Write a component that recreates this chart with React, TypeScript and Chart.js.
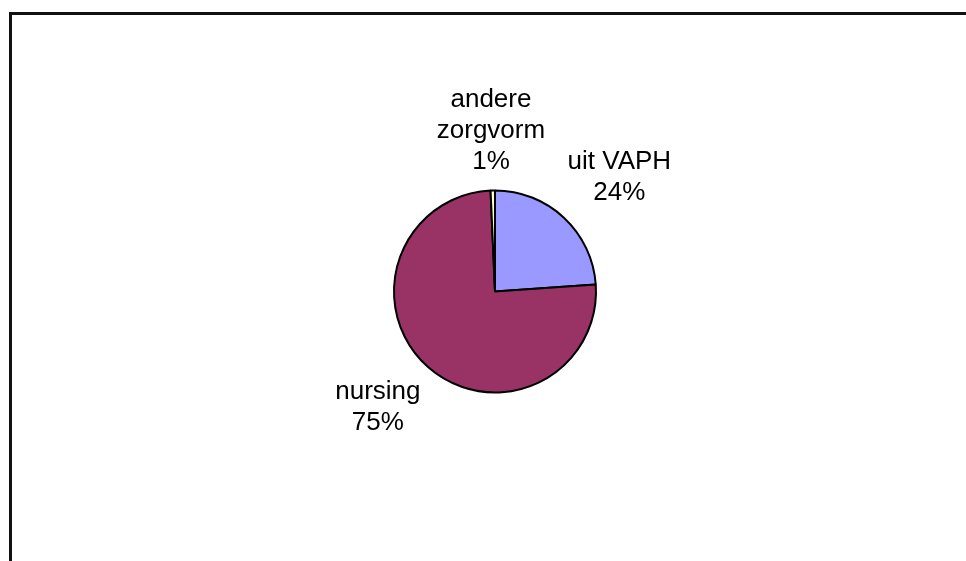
import React, { useEffect, useRef } from "react";
import { Chart, registerables } from "chart.js";

Chart.register(...registerables);

const categories = ["uit VAPH", "nursing", "andere zorgvorm"];
const values = [23.9, 75.4, 0.7];
const sliceColors = ["#9999FF", "#993366", "#FFFFCC"];

const W = 966;
const H = 561;
const FONT = "26px 'Liberation Sans', Arial, sans-serif";
const LINE_H = 31;
const WRAP_WIDTH = 108;

function wrap(ctx: CanvasRenderingContext2D, text: string): string[] {
  const words = text.split(" ");
  const lines: string[] = [];
  let cur = "";
  for (const w of words) {
    const t = cur ? cur + " " + w : w;
    if (cur && ctx.measureText(t).width > WRAP_WIDTH) {
      lines.push(cur);
      cur = w;
    } else cur = t;
  }
  if (cur) lines.push(cur);
  return lines;
}

const framePlugin = {
  id: "frame",
  beforeDraw(chart: any) {
    const ctx = chart.ctx;
    ctx.save();
    ctx.fillStyle = "#ffffff";
    ctx.fillRect(0, 0, W, H);
    ctx.fillStyle = "#111111";
    ctx.fillRect(9, 12, W - 9, 3);
    ctx.fillRect(9, 12, 3, H - 12);
    ctx.restore();
  },
};

const labelPlugin = {
  id: "outLabels",
  afterDatasetsDraw(chart: any) {
    const ctx = chart.ctx;
    const meta = chart.getDatasetMeta(0);
    const data = chart.data.datasets[0].data as number[];
    const total = data.reduce((a, b) => a + b, 0);
    ctx.save();
    ctx.font = FONT;
    ctx.fillStyle = "#000";
    ctx.textAlign = "center";
    ctx.textBaseline = "middle";
    meta.data.forEach((arc: any, i: number) => {
      const { x, y, startAngle, endAngle, outerRadius } = arc.getProps(
        ["x", "y", "startAngle", "endAngle", "outerRadius"],
        true
      );
      const pct = Math.round((data[i] / total) * 100) + "%";
      const lines = [...wrap(ctx, chart.data.labels[i]), pct];
      const w = Math.max(...lines.map((l) => ctx.measureText(l).width));
      const h = lines.length * LINE_H;
      const mid = (startAngle + endAngle) / 2;
      const c = Math.cos(mid);
      const s = Math.sin(mid);
      const d = outerRadius + 45;
      const cx = x + c * d + c * 0.7 * (w / 2);
      const cy = y + s * d + s * 0.31 * (h / 2);
      const top = cy - ((lines.length - 1) * LINE_H) / 2;
      lines.forEach((ln, k) => ctx.fillText(ln, cx, top + k * LINE_H));
    });
    ctx.restore();
  },
};

export default function App() {
  const ref = useRef<HTMLCanvasElement>(null);
  useEffect(() => {
    document.body.style.margin = "0";
    const chart = new Chart(ref.current!, {
      type: "pie",
      data: {
        labels: categories,
        datasets: [
          {
            data: values,
            backgroundColor: sliceColors,
            borderColor: "#000000",
            borderWidth: 2,
          },
        ],
      },
      options: {
        responsive: false,
        animation: false,
        radius: 101,
        layout: { padding: { left: 24, right: 0, top: 22, bottom: 0 } },
        plugins: {
          legend: { display: false },
          tooltip: { enabled: false },
        },
      } as any,
      plugins: [framePlugin, labelPlugin],
    });
    return () => chart.destroy();
  }, []);
  return (
    <div style={{ position: "fixed", left: 0, top: 0, width: W, height: H }}>
      <canvas ref={ref} width={W} height={H} />
    </div>
  );
}
